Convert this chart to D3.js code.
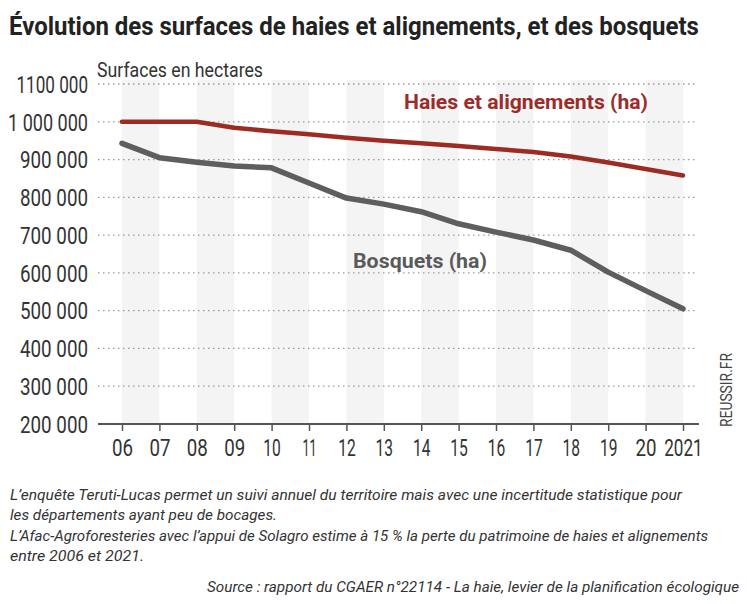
<!DOCTYPE html>
<html>
<head>
<meta charset="utf-8">
<script src="https://cdn.jsdelivr.net/npm/d3@7"></script>
<style>
  body { margin: 0; background: #fff; }
  svg { display: block; }
  .axis text { font-family: "Roboto", sans-serif; fill: #333; }
</style>
</head>
<body>
<div id="chartContainer"></div>
<script>
// données
const years = ["06", "07", "08", "09", "10", "11", "12", "13", "14", "15", "16", "17", "18", "19", "20", "2021"];
const haies = [1000000, 1000000, 1000000, 984000, 975000, 967000, 958000, 950000, 943000, 936000, 928000, 920000, 908000, 892000, 875000, 858000];
const bosquets = [943000, 905000, 893000, 883000, 878000, 838000, 798000, 782000, 762000, 730000, 708000, 687000, 660000, 602000, 553000, 505000];
const yTicks = [200000, 300000, 400000, 500000, 600000, 700000, 800000, 900000, 1000000, 1100000];
const yTickLabels = ["200 000", "300 000", "400 000", "500 000", "600 000", "700 000", "800 000", "900 000", "1 000 000", "1100 000"];

const title = "Évolution des surfaces de haies et alignements, et des bosquets";
const unitLabel = "Surfaces en hectares";
const seriesNames = ["Haies et alignements (ha)", "Bosquets (ha)"];
const notes = [
  "L’enquête Teruti-Lucas permet un suivi annuel du territoire mais avec une incertitude statistique pour",
  "les départements ayant peu de bocages.",
  "L’Afac-Agroforesteries avec l’appui de Solagro estime à 15 % la perte du patrimoine de haies et alignements",
  "entre 2006 et 2021."
];
const source = "Source : rapport du CGAER n°22114 - La haie, levier de la planification écologique";

const width = 747, height = 604;
const plot = { left: 98, right: 698, top: 80, bottom: 424 };
const font = "Roboto, sans-serif";

// largeur approximative d'un libellé de chiffres en police condensée
const numWidth = s => d3.sum(s.split(""), c => c === " " ? 5 : c === "1" ? 7 : 10.5);

// texte resserré horizontalement pour imiter la police condensée d'origine
function condensed(sel, x, y, w) {
  const natural = sel.node().getComputedTextLength();
  sel.attr("transform", `translate(${x},${y}) scale(${w / natural},1)`);
  return sel;
}

const svg = d3.select("#chartContainer")
  .append("svg")
  .attr("width", width)
  .attr("height", height);

const xScale = d3.scalePoint()
  .domain(years)
  .range([122, 683]);

const yScale = d3.scaleLinear()
  .domain([200000, 1100000])
  .range([plot.bottom, 84]);

const step = xScale.step();

// bandes grises alternées (06-07, 08-09, ...)
svg.append("g")
  .selectAll("rect")
  .data(years.filter((d, i) => i % 2 === 0))
  .enter().append("rect")
    .attr("x", d => xScale(d))
    .attr("y", plot.top)
    .attr("width", step)
    .attr("height", plot.bottom - plot.top)
    .attr("fill", "#f4f4f4");

// grille pointillée
svg.append("g")
  .selectAll("line")
  .data(yTicks.slice(1))
  .enter().append("line")
    .attr("x1", plot.left)
    .attr("x2", plot.right)
    .attr("y1", d => yScale(d))
    .attr("y2", d => yScale(d))
    .attr("stroke", "#9a9a9a")
    .attr("stroke-width", 1.3)
    .attr("stroke-dasharray", "1.5,3.5");

// axe y (étiquettes seulement)
const fmt = d => yTickLabels[yTicks.indexOf(d)];
const yAxis = svg.append("g")
  .attr("class", "axis y-axis")
  .attr("transform", "translate(88,0)")
  .call(d3.axisLeft(yScale).tickValues(yTicks).tickFormat(fmt).tickSize(0).tickPadding(0));
yAxis.select(".domain").remove();
yAxis.selectAll("text")
  .attr("font-size", 23)
  .attr("dy", "0.36em")
  .attr("textLength", d => numWidth(fmt(d)))
  .attr("lengthAdjust", "spacingAndGlyphs");

// axe x
const xAxis = svg.append("g")
  .attr("class", "axis x-axis")
  .attr("transform", `translate(0, ${plot.bottom})`)
  .call(d3.axisBottom(xScale).tickSizeOuter(0).tickSize(7).tickPadding(9));
xAxis.select(".domain")
  .attr("d", `M${plot.left},0H${plot.right + 1}`)
  .attr("stroke", "#555")
  .attr("stroke-width", 2);
xAxis.selectAll(".tick line").attr("stroke", "#555").attr("stroke-width", 1.5);
xAxis.selectAll("text")
  .attr("font-size", 23)
  .attr("textLength", d => numWidth(d))
  .attr("lengthAdjust", "spacingAndGlyphs");

// courbes
const line = d3.line()
  .x((d, i) => xScale(years[i]))
  .y(d => yScale(d));

svg.append("path")
  .datum(bosquets)
  .attr("d", line)
  .attr("fill", "none")
  .attr("stroke", "#5e5e5e")
  .attr("stroke-width", 5.5)
  .attr("stroke-linecap", "round")
  .attr("stroke-linejoin", "round");

svg.append("path")
  .datum(haies)
  .attr("d", line)
  .attr("fill", "none")
  .attr("stroke", "#9c2b22")
  .attr("stroke-width", 4.5)
  .attr("stroke-linecap", "round")
  .attr("stroke-linejoin", "round");

// étiquettes des séries
svg.append("text")
  .attr("x", 404).attr("y", 109)
  .attr("textLength", 244).attr("lengthAdjust", "spacingAndGlyphs")
  .attr("font-family", font)
  .attr("font-weight", "bold").attr("font-size", 20)
  .attr("fill", "#9a2d2b")
  .text(seriesNames[0]);

svg.append("text")
  .attr("x", 353).attr("y", 268)
  .attr("textLength", 134).attr("lengthAdjust", "spacingAndGlyphs")
  .attr("font-family", font)
  .attr("font-weight", "bold").attr("font-size", 20)
  .attr("fill", "#5a5a5a")
  .text(seriesNames[1]);

// titre
svg.append("text")
  .attr("font-family", font)
  .attr("font-weight", "bold").attr("font-size", 26)
  .attr("fill", "#222")
  .text(title)
  .call(condensed, 9, 35, 690);

svg.append("text")
  .attr("x", 97).attr("y", 77)
  .attr("textLength", 166).attr("lengthAdjust", "spacingAndGlyphs")
  .attr("font-family", font)
  .attr("font-size", 20)
  .attr("fill", "#333")
  .text(unitLabel);

// crédit vertical
svg.append("text")
  .attr("transform", "translate(732, 427) rotate(-90)")
  .attr("textLength", 74).attr("lengthAdjust", "spacingAndGlyphs")
  .attr("font-family", font)
  .attr("font-size", 16)
  .attr("fill", "#444")
  .text("REUSSIR.FR");

// notes
const noteLengths = [672, 267, 698, 134];
svg.append("g")
  .selectAll("text")
  .data(notes)
  .enter().append("text")
    .attr("x", 10)
    .attr("y", (d, i) => 500 + i * 20.3)
    .attr("textLength", (d, i) => noteLengths[i])
    .attr("lengthAdjust", "spacingAndGlyphs")
    .attr("font-family", font)
    .attr("font-style", "italic")
    .attr("font-size", 14.5)
    .attr("fill", "#333")
    .text(d => d);

svg.append("text")
  .attr("x", 207).attr("y", 592)
  .attr("textLength", 532).attr("lengthAdjust", "spacingAndGlyphs")
  .attr("font-family", font)
  .attr("font-style", "italic")
  .attr("font-size", 14.5)
  .attr("fill", "#333")
  .text(source);
</script>
</body>
</html>
